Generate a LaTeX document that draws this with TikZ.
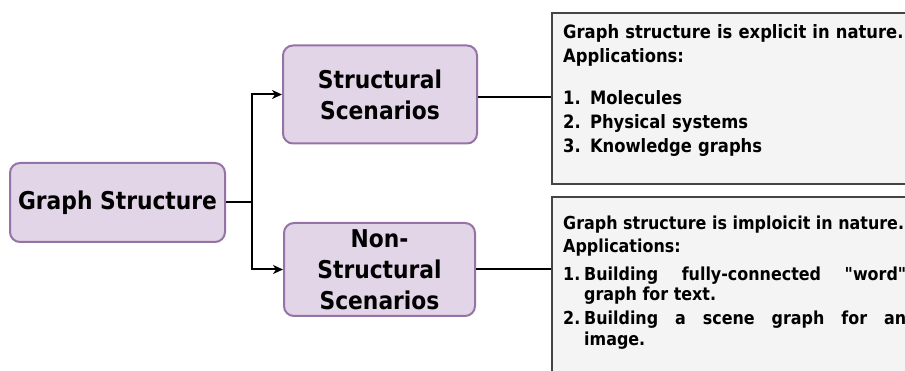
\documentclass[tikz,border=0pt]{standalone}
\usepackage{fontspec}
\setmainfont{DejaVu Sans}[FakeStretch=0.89, Ligatures=TeXOff]
\usetikzlibrary{arrows.meta}
\definecolor{lilacfill}{HTML}{E1D5E7}
\definecolor{lilacline}{HTML}{9673A6}
\definecolor{notefill}{HTML}{F4F4F4}
\definecolor{noteline}{HTML}{444444}

\begin{document}
\begin{tikzpicture}[x=1pt,y=-1pt,
  topic/.style={draw=lilacline, fill=lilacfill, line width=2pt,
    rounded corners=10pt, inner sep=0pt, align=center,
    font=\bfseries\fontsize{24.5}{31}\selectfont},
  notebox/.style={draw=noteline, fill=notefill, line width=2pt,
    rectangle, inner sep=0pt, anchor=north west},
  notetext/.style={inner sep=0pt, anchor=north west},
  link/.style={line width=2pt, draw=black},
  arrowlink/.style={link, -{Stealth[length=10pt,width=9pt,inset=3pt]}}
]
\useasboundingbox (0,0) rectangle (905,371);
\clip (0,0) rectangle (905,371);

% topic boxes
\node[topic, minimum width=215pt, minimum height=79pt] (gs) at (117.5,202.5) {Graph Structure};
\node[topic, minimum width=194pt, minimum height=98pt] (st) at (380,94.5) {Structural\\Scenarios};
\node[topic, minimum width=191pt, minimum height=93pt] (ns) at (379.5,269.5) {Non-\\Structural\\Scenarios};

% note boxes (running past the right and bottom edges)
\node[notebox, minimum width=400pt, minimum height=171pt] (eb) at (551,12) {};
\node[notebox, minimum width=400pt, minimum height=220pt] (ib) at (551,196) {};

% connectors
\coordinate (fork) at (252,202.5);
\coordinate (stout) at ([yshift=-3pt]st.east);
\draw[link] (gs.east) -- (fork);
\draw[arrowlink] (fork) |- (st.west);
\draw[arrowlink] (fork) |- (ns.west);
\draw[link] (stout) -- (eb.west |- stout);
\draw[link] (ns.east) -- (ib.west |- ns.east);

% note texts
\node[notetext, text width=370pt, align=left,
      font=\bfseries\fontsize{18.4}{24}\selectfont] (et) at (563,24)
  {Graph structure is explicit in nature.\\
   Applications:\\[18pt]
   1. Molecules\\
   2. Physical systems\\
   3. Knowledge graphs};

\node[notetext, text width=343pt, align=justify,
      font=\bfseries\fontsize{17.9}{20.5}\selectfont] (it) at (563,216)
  {\parindent=0pt\baselineskip=20.5pt\tolerance=10000
   \mbox{Graph structure is imploicit in nature.}\par\vspace{2pt}
   Applications:\par\vspace{7.5pt}
   \hangindent=21pt\hangafter=1\makebox[21pt][l]{1.}Building fully-connected "word"\linebreak graph for text.\par\vspace{3.5pt}
   \hangindent=21pt\hangafter=1\makebox[21pt][l]{2.}Building a scene graph for an\linebreak image.\par};
\end{tikzpicture}
\end{document}
